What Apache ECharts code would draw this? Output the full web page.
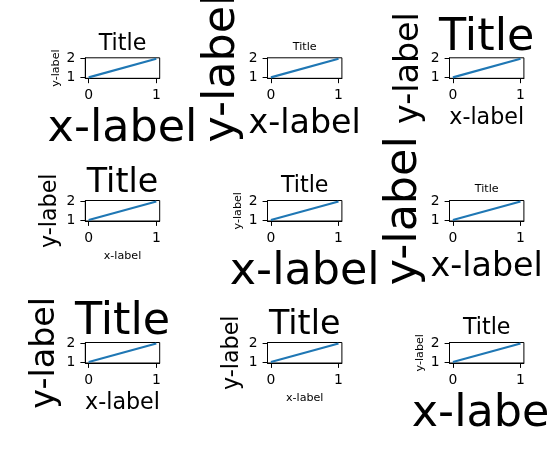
<!DOCTYPE html>
<html><head><meta charset="utf-8">
<script src="https://cdn.jsdelivr.net/npm/echarts@6/dist/echarts.min.js"></script>
<style>html,body{margin:0;padding:0;background:#fff}#c{width:550px;height:450px}</style>
</head><body><div id="c"></div>
<script>
// Data
const xData = [0, 1];
const yData = [1, 2];
const xTicks = [0, 1];
const yTicks = [1, 2];
const titleText = 'Title';
const xLabelText = 'x-label';
const yLabelText = 'y-label';
// font sizes (pt) per panel, row-major
const xLabelSizes = [32, 24, 16, 8, 32, 24, 16, 8, 32];
const yLabelSizes = [8, 32, 24, 16, 8, 32, 24, 16, 8];
const titleSizes = [16, 8, 32, 24, 16, 8, 32, 24, 16];

// Layout
const FONT = 'DejaVu Sans';
const colLeft = [85.3, 267.5, 449.5];
const rowTop = [57.8, 200.5, 342.5];
const W = 74.4, H = 20.5;
const px = pt => pt * 100 / 72;
const BASE = 0.75; // baseline position within text box (fraction of font size)

const grids = [], xAxes = [], yAxes = [], series = [], titles = [];
for (let i = 0; i < 9; i++) {
  const r = Math.floor(i / 3), c = i % 3;
  const left = colLeft[c], top = rowTop[r];
  grids.push({left, top, width: W, height: H, show: true, borderColor: '#000', borderWidth: 1,
    backgroundColor: 'transparent', containLabel: false, outerBoundsMode: 'none'});
  const xf = px(xLabelSizes[i]), yf = px(yLabelSizes[i]), tf = px(titleSizes[i]);
  const common = (ticks, margin, pad) => ({
    type: 'value', gridIndex: i, splitLine: {show: false},
    axisLine: {show: true, onZero: false, lineStyle: {color: '#000', width: 1}},
    axisTick: {show: true, length: 4.9, customValues: ticks, lineStyle: {color: '#000', width: 1}},
    axisLabel: {customValues: ticks, fontSize: 13.9, color: '#000', margin, padding: pad, fontFamily: FONT},
    nameLocation: 'middle', nameMoveOverlap: false
  });
  xAxes.push(Object.assign(common(xTicks, 10, 0), {
    min: -0.05, max: 1.05, name: xLabelText, nameGap: 29.1 + (0.76 - BASE) * xf,
    nameTextStyle: {fontSize: xf, color: '#000', fontFamily: FONT}
  }));
  yAxes.push(Object.assign(common(yTicks, 10, [3, 0, 0, 0]), {
    min: 0.95, max: 2.05, name: yLabelText, nameGap: 24.1 + (0.236 - (1 - BASE)) * yf,
    nameTextStyle: {fontSize: yf, color: '#000', fontFamily: FONT}
  }));
  series.push({type: 'line', xAxisIndex: i, yAxisIndex: i, showSymbol: false, symbol: 'none',
    data: xData.map((x, j) => [x, yData[j]]),
    lineStyle: {color: '#1f77b4', width: 2.1}, animation: false});
  titles.push({text: titleText, left: left + W / 2, top: top - 8.3 - BASE * tf,
    textAlign: 'center', padding: 0,
    textStyle: {fontSize: tf, fontWeight: 'normal', color: '#000', fontFamily: FONT}});
}

const chart = echarts.init(document.getElementById('c'), null, {renderer: 'canvas'});
chart.setOption({backgroundColor: '#fff', animation: false, title: titles,
  grid: grids, xAxis: xAxes, yAxis: yAxes, series});
</script></body></html>
